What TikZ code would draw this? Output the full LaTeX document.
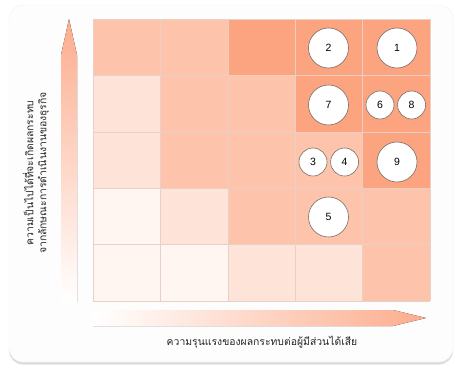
\documentclass[tikz,border=0pt]{standalone}
\usepackage{fontspec}
\setsansfont{Liberation Sans}
\newfontfamily\thaifont[Script=Thai]{Loma}
\usetikzlibrary{positioning,shadows}
\definecolor{rkdark}{HTML}{FCA380}
\definecolor{rkmid}{HTML}{FDC4AB}
\definecolor{rklight}{HTML}{FEE3D8}
\definecolor{rkpale}{HTML}{FFF5F1}
\definecolor{rkgrid}{HTML}{E9D0C6}
\definecolor{rkring}{HTML}{7A6C66}
\definecolor{rkcard}{HTML}{FDFDFD}
\newcommand{\riskrow}[2]{%
  \foreach \tone [count=\col from 0] in {#2}{
    \fill[\tone] ({93+67.4*\col},{19+56.4*#1}) rectangle +(67.4,56.4);}
}
\tikzset{
  bigdot/.style={circle,draw=rkring,line width=.6pt,fill=white,
    minimum size=40pt,inner sep=0pt,font=\sffamily\fontsize{10.5}{12}\selectfont},
  smalldot/.style={bigdot,minimum size=28pt},
  axislabel/.style={font=\thaifont\fontsize{10.4}{13}\selectfont,text=black!85,align=center}
}

\begin{document}
\begin{tikzpicture}[x=1pt,y=-1pt]
    \useasboundingbox (0,0) rectangle (455,371);
    % card
    \filldraw[rounded corners=14pt,fill=rkcard,draw=black!6,
      drop shadow={shadow xshift=0pt,shadow yshift=-2.5pt,opacity=.3,fill=black!45}]
      (9,5) rectangle (453,362);
    % risk grid
    \riskrow{0}{rkmid,rkmid,rkdark,rkdark,rkdark}
    \riskrow{1}{rklight,rkmid,rkmid,rkdark,rkdark}
    \riskrow{2}{rklight,rkmid,rkmid,rkmid,rkdark}
    \riskrow{3}{rkpale,rklight,rkmid,rkmid,rkmid}
    \riskrow{4}{rkpale,rkpale,rklight,rklight,rkmid}
    \foreach \k in {0,...,5}{
      \draw[rkgrid,line width=.5pt] ({93+67.4*\k},19) -- ({93+67.4*\k},301);
      \draw[rkgrid,line width=.5pt] (93,{19+56.4*\k}) -- (430,{19+56.4*\k});}
    % axes
    \fill[top color=rkdark!90,bottom color=white]
      (61,302) -- (61,55) -- (69,19) -- (77,55) -- (77,302) -- cycle;
    \fill[left color=white,right color=rkdark!90]
      (93,310) -- (393,310) -- (426,318) -- (393,326) -- (93,326) -- cycle;
    \node[axislabel] (xlabel) at (262,342)
      {ความรุนแรงของผลกระทบต่อผู้มีส่วนได้เสีย};
    \node[axislabel,rotate=90] (ylabel) at (36,173)
      {ความเป็นไปได้ที่จะเกิดผลกระทบ\\จากลักษณะการดำเนินงานของธุรกิจ};
    % issues
    \node[bigdot] (r2) at (328.5,48) {2};
    \node[bigdot] (r1) at (397,48) {1};
    \node[bigdot] (r7) at (328.5,105) {7};
    \node[smalldot] (r6) at (380,105) {6};
    \node[smalldot,right=3pt of r6] (r8) {8};
    \node[smalldot] (r3) at (313,162) {3};
    \node[smalldot,right=3pt of r3] (r4) {4};
    \node[bigdot] (r9) at (397,162) {9};
    \node[bigdot] (r5) at (328.5,217) {5};
  \end{tikzpicture}
\end{document}
